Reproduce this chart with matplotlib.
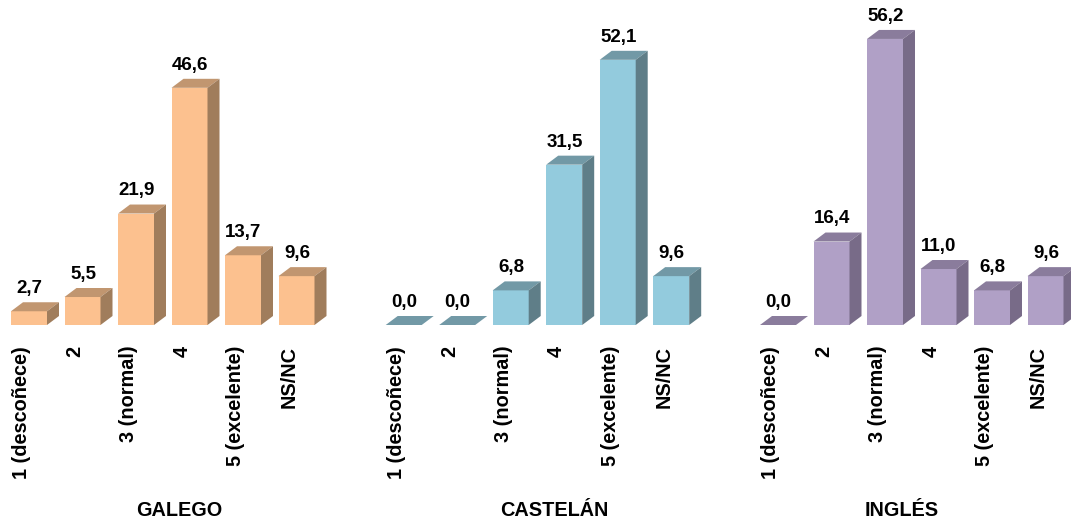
import matplotlib
matplotlib.use('Agg')
import matplotlib.pyplot as plt
from matplotlib.transforms import ScaledTranslation

plt.rcParams['font.family'] = ['Liberation Sans', 'DejaVu Sans']
plt.rcParams['font.weight'] = 'bold'

categories = ['1 (descoñece)', '2', '3 (normal)', '4', '5 (excelente)', 'NS/NC']
galego = [2.7, 5.5, 21.9, 46.6, 13.7, 9.6]
castelan = [0.0, 0.0, 6.8, 31.5, 52.1, 9.6]
ingles = [0.0, 16.4, 56.2, 11.0, 6.8, 9.6]

W, H = 1071, 528
px_cat = 53.5     # px per category
px_unit = 5.09    # px per percent
base_y = 325
bar_w = 36 / px_cat
dx = 12 / px_cat  # 3d depth
dy = 9 / px_unit
ax_w = 319.75

paneis = [
    ('GALEGO', galego, 2.25, 2.81, '#fcc18f', '#c19670', '#a07d5c'),
    ('CASTELÁN', castelan, 376.95, 2.82, '#93cbdd', '#7299a6', '#5f7e88'),
    ('INGLÉS', ingles, 751.25, 2.32, '#b0a0c6', '#8a7c9c', '#786b88'),
]

fig = plt.figure(figsize=(W / 100, H / 100), dpi=100)

for nome, vals, left, title_x, front, top, side in paneis:
    ax = fig.add_axes([left / W, (H - base_y) / H, ax_w / W, base_y / H])
    ax.set_xlim(-0.5, -0.5 + ax_w / px_cat)
    ax.set_ylim(0, base_y / px_unit)
    xs = list(range(len(vals)))
    ax.bar(xs, vals, width=bar_w, color=front, linewidth=0)
    for x, v in zip(xs, vals):
        l = x - bar_w / 2
        r = x + bar_w / 2
        ax.fill([l, r, r + dx, l + dx], [v, v, v + dy, v + dy], color=top, lw=0, clip_on=False)
        if v > 0:
            ax.fill([r, r + dx, r + dx, r], [0, dy, v + dy, v], color=side, lw=0, clip_on=False)
        ax.text(x + 0.01, v + dy + 1.0, f'{v:.1f}'.replace('.', ','), ha='center', va='bottom',
                fontsize=13.5, fontweight='bold')
    ax.set_xticks(xs)
    ax.set_xticklabels(categories, rotation=90, fontsize=14.3, fontweight='bold')
    ax.tick_params(axis='x', length=0, pad=15)
    # labels sit left of the bar centre
    shift = ScaledTranslation(-7.5 / 100, 0, fig.dpi_scale_trans)
    for lab in ax.get_xticklabels():
        lab.set_transform(lab.get_transform() + shift)
    ax.set_yticks([])
    for s in ax.spines.values():
        s.set_visible(False)
    ax.patch.set_alpha(0)
    ax.text(title_x, -(510 - base_y) / px_unit, nome, ha='center', va='center',
            fontsize=14.3, fontweight='bold')

fig.savefig('out.png', dpi=100)
